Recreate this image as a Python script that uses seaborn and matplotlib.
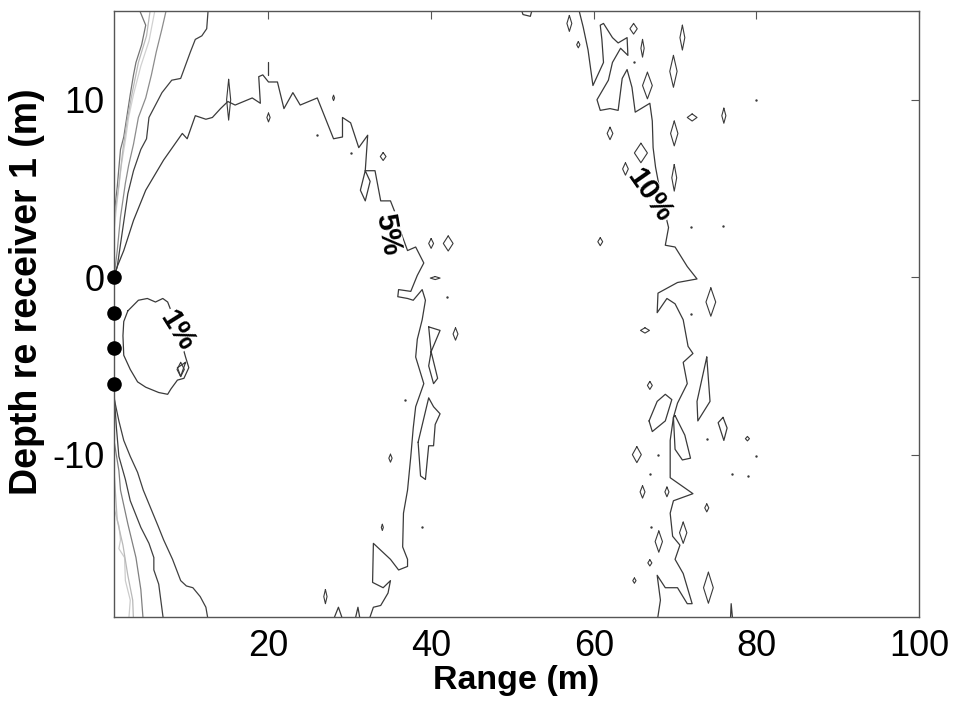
import numpy as np
import pandas as pd
import matplotlib
matplotlib.use("Agg")
import matplotlib.pyplot as plt
import seaborn as sns

# receivers on the left edge
rec_range = [1.0, 1.0, 1.0, 1.0]
rec_depth = [0, -2, -4, -6]

# 1% contour (closed loop)
c1_r = [2.7, 4.0, 5.1, 6.1, 7.0, 7.6, 8.7, 9.8, 10.2, 9.6, 8.8, 8.0, 7.6, 6.5, 4.9, 3.9, 3.0, 2.2, 2.1, 2.2, 2.7]
c1_d = [-1.9, -1.3, -1.2, -1.4, -1.2, -1.4, -2.7, -4.5, -5.1, -5.7, -5.8, -6.3, -6.6, -6.5, -6.2, -5.9, -5.2, -4.4, -3.3, -2.5, -1.9]

# 5% contour
c5_r = [1.0, 1.4, 2.2, 3.4, 4.9, 7.1, 9.4, 10.0, 11.0, 12.3, 13.1, 14.1, 15.0, 15.9, 18.0, 19.0,
        18.8, 19.3, 20.0, 21.1, 21.9, 23.0, 23.9, 26.0, 28.0, 29.1, 29.1, 30.1, 31.1, 32.2, 31.9,
        33.1, 33.8, 35.0, 35.6, 36.3, 37.1, 38.1, 39.1, 38.3, 37.5, 36.0, 35.9, 37.1, 37.8, 38.9,
        39.3, 38.9, 38.3, 38.1, 39.1, 38.1, 37.8, 37.5, 37.1, 36.6, 36.5, 37.1, 37.1, 36.0, 35.0,
        32.9, 32.8, 34.1, 35.0, 34.7, 33.8, 32.9, 32.3]
c5_d = [0.0, 0.6, 1.5, 3.2, 4.9, 6.6, 8.1, 7.8, 9.1, 8.9, 9.0, 9.5, 9.9, 9.7, 10.1, 9.8,
        11.3, 11.4, 11.0, 11.0, 9.5, 10.4, 9.7, 10.1, 7.8, 7.9, 9.0, 8.7, 7.3, 8.0, 6.0,
        6.0, 4.3, 4.3, 3.6, 2.5, 1.5, 1.7, 0.8, 0.1, -0.8, -0.7, -1.1, -1.2, -1.3, -0.7,
        -1.3, -2.4, -3.5, -4.5, -6.0, -7.3, -8.5, -10.1, -12.0, -13.3, -15.2, -15.9, -16.3, -16.5, -15.9,
        -15.0, -17.2, -17.5, -17.1, -17.8, -18.5, -18.6, -19.4]

# 10% contour
c10_r = [58.1, 58.7, 59.3, 59.6, 59.9, 60.6, 61.2, 61.0, 60.8, 61.2, 62.3, 63.0, 64.1, 64.2, 63.3,
         62.3, 61.8, 60.4, 60.8, 62.0, 63.0, 63.5, 64.1, 64.7, 65.1, 66.9, 67.2, 67.3, 67.6, 68.3,
         69.2, 68.8, 70.0, 71.5, 72.7, 70.3, 67.9, 67.8, 69.0, 70.0, 71.0, 71.6, 72.2, 71.0, 71.5,
         70.3, 69.8, 69.4, 69.4, 72.2, 69.8, 69.4, 69.7, 70.6, 70.0, 71.0, 72.1, 71.5, 70.3, 68.8,
         67.8, 68.2, 67.8]
c10_d = [15.2, 14.1, 12.8, 11.8, 10.8, 11.5, 12.1, 13.4, 14.2, 14.3, 13.5, 13.2, 13.5, 12.5, 12.9,
         12.1, 11.1, 10.0, 9.4, 9.5, 9.4, 11.2, 11.7, 10.7, 9.3, 9.8, 8.8, 7.3, 6.2, 4.5,
         2.8, 1.8, 1.7, 0.6, -0.1, -0.3, -0.9, -2.0, -1.2, -1.5, -2.4, -3.9, -4.3, -4.8, -6.0,
         -7.1, -7.9, -9.2, -11.3, -12.2, -12.6, -13.3, -14.6, -15.1, -15.9, -16.7, -18.4, -18.4, -17.5, -17.5,
         -16.8, -18.2, -19.4]

# higher-error contours hugging the receiver array (shade = grey level)
edge_paths = {
    "top_a": ([4.0, 4.9, 4.4, 3.7, 3.4, 3.0, 2.6, 2.2, 1.8, 1.4, 1.0],
              [15.2, 14.2, 13.1, 12.1, 11.4, 10.3, 9.1, 7.9, 7.2, 5.1, 3.4], 0.45),
    "top_b": ([6.1, 5.3, 4.3, 3.4, 2.8, 2.4, 1.9, 1.4, 1.0],
              [15.2, 13.3, 11.9, 10.3, 9.0, 7.7, 6.3, 4.3, 2.6], 0.82),
    "top_c": ([5.5, 5.0, 4.0, 3.2, 2.6, 2.1, 1.6, 1.0],
              [15.2, 13.6, 12.1, 10.3, 8.8, 7.2, 5.2, 3.2], 0.72),
    "top_d": ([7.5, 6.9, 6.2, 5.6, 4.9, 4.0, 3.4, 2.8, 2.4, 1.8, 1.4, 1.0],
              [15.2, 14.0, 12.7, 11.4, 10.1, 9.0, 7.5, 6.3, 5.3, 3.4, 1.5, 0.0], 0.55),
    "top_e": ([12.6, 12.4, 11.8, 11.0, 10.4, 9.2, 8.1, 6.9, 6.1, 5.3, 5.0, 4.3, 3.4, 2.7, 2.1, 1.4, 1.0],
              [15.2, 14.0, 13.6, 13.4, 12.7, 11.2, 11.1, 10.4, 9.7, 9.0, 7.8, 7.2, 6.0, 4.7, 2.8, 0.6, 0.0], 0.25),
    "bot_a": ([1.0, 1.6, 2.2, 3.0, 3.9, 4.6, 5.5, 6.4, 7.1, 8.2, 9.2, 9.9, 10.7, 11.6, 12.3, 12.6],
              [-6.8, -8.1, -9.2, -10.1, -11.0, -12.0, -13.0, -14.0, -14.8, -15.9, -17.1, -17.4, -17.5, -18.0, -18.6, -19.4], 0.25),
    "bot_b": ([1.0, 1.3, 1.6, 2.4, 3.0, 4.3, 5.3, 5.9, 5.9, 6.5, 7.1],
              [-6.5, -8.5, -10.1, -11.4, -12.6, -14.1, -15.0, -15.8, -16.5, -17.3, -19.4], 0.25),
    "bot_c": ([1.0, 1.6, 1.8, 2.7, 3.7, 4.3, 4.6],
              [-9.2, -10.9, -12.0, -13.9, -15.8, -17.6, -19.4], 0.5),
    "bot_d": ([1.0, 1.6, 1.8, 1.6, 2.3, 2.4, 3.0, 2.8],
              [-13.0, -14.0, -14.8, -15.3, -15.8, -17.1, -18.2, -19.4], 0.8),
    "bot_e": ([1.0, 1.4, 2.1, 2.7, 3.3, 3.4],
              [-10.9, -13.7, -15.1, -16.8, -18.2, -19.4], 0.72),
}

# extra small open / closed pieces of the 5% and 10% contours
piece_r = [
    [20.0, 20.0],
    [31.9, 31.3, 31.9, 32.5, 31.9],
    [39.7, 41.1, 40.0, 40.8, 40.3, 39.7, 40.0, 39.7],
    [38.4, 39.7, 40.3, 41.1, 40.5, 40.3, 39.7, 39.3, 38.7, 38.4],
    [27.9, 28.6, 29.2],
    [30.6, 31.0, 31.3],
    [51.0, 51.3, 52.2, 52.5],
    [66.8, 67.8, 68.8, 69.6, 68.8, 67.2, 66.8],
    [73.9, 74.3, 72.8, 72.7, 73.9],
    [75.9, 76.4, 76.0, 75.3, 75.9],
    [70.0, 71.2, 71.9, 70.9, 70.0, 69.8, 70.0],
    [76.8, 76.9, 77.1],
]
piece_d = [
    [12.1, 11.4],
    [6.0, 4.9, 4.3, 5.4, 6.0],
    [-2.8, -3.0, -4.2, -5.7, -6.0, -5.0, -4.2, -2.8],
    [-9.3, -6.8, -7.3, -7.7, -8.3, -9.5, -9.5, -11.4, -11.2, -9.3],
    [-19.4, -18.6, -19.4],
    [-19.4, -18.6, -19.4],
    [15.2, 14.8, 14.7, 15.2],
    [-8.1, -7.0, -6.6, -6.9, -8.1, -8.7, -8.1],
    [-4.5, -7.0, -8.1, -7.0, -4.5],
    [-7.9, -8.5, -9.2, -8.2, -7.9],
    [-7.8, -8.9, -10.2, -10.3, -9.7, -7.9, -7.8],
    [-19.4, -18.4, -19.4],
]

# small closed contours (islands): centre range, centre depth, width, height
isl_r = [15.1, 20.0, 28.0, 34.1, 40.0, 42.1, 40.5, 43.0, 35.0, 34.0, 27.0,
         9.2,
         57.0, 58.1, 64.9, 66.0, 70.9, 69.8, 66.6, 72.1, 76.0, 62.0, 69.9, 65.8, 63.9, 69.9,
         60.8, 74.4, 66.3, 66.9, 65.3, 66.0, 69.0, 73.9, 68.0, 71.0, 66.9, 65.0, 74.1, 78.9]
isl_d = [10.0, 9.0, 10.1, 6.8, 1.9, 1.9, -0.05, -3.2, -10.2, -14.1, -18.0,
         -5.2,
         14.3, 13.1, 14.0, 12.9, 13.5, 11.6, 10.8, 9.0, 9.1, 8.1, 8.1, 7.0, 6.1, 5.6,
         2.0, -1.4, -3.0, -6.1, -10.0, -12.1, -12.1, -13.0, -14.9, -14.4, -16.1, -17.1, -17.5, -9.1]
isl_w = [0.5, 0.4, 0.25, 0.7, 0.6, 1.2, 1.2, 0.6, 0.4, 0.25, 0.4,
         0.9,
         0.6, 0.4, 0.9, 0.4, 0.6, 0.9, 1.2, 1.2, 0.5, 0.7, 0.9, 1.6, 0.7, 0.6,
         0.6, 1.2, 1.1, 0.6, 1.1, 0.6, 0.5, 0.5, 0.9, 0.9, 0.5, 0.4, 1.2, 0.5]
isl_h = [2.3, 0.5, 0.3, 0.45, 0.55, 0.85, 0.17, 0.7, 0.45, 0.35, 0.8,
         0.8,
         0.9, 0.35, 0.6, 1.0, 1.4, 1.8, 1.5, 0.4, 0.85, 0.7, 1.4, 1.1, 0.7, 1.5,
         0.45, 1.6, 0.3, 0.45, 0.9, 0.7, 0.55, 0.45, 1.2, 1.2, 0.35, 0.3, 1.75, 0.25]

# specks
dot_r = [26.0, 30.1, 36.8, 38.9, 42.0, 80.0, 72.0, 75.9, 64.9, 67.9, 66.9, 73.9, 77.0, 79.0, 80.0, 67.1, 71.9]
dot_d = [8.0, 7.0, -6.9, -14.1, -1.1, 10.0, -2.1, 2.9, 12.1, -10.0, -11.1, -9.1, -11.1, -11.2, -10.1, -14.1, 2.8]

# contour labels: text, range, depth, angle
lab_txt = ["1%", "5%", "10%"]
lab_r = [8.7, 34.6, 66.9]
lab_d = [-3.0, 2.4, 4.6]
lab_rot = [-58, -80, -55]

line_col = "#3a3a3a"

sns.set_style("white")
plt.rcParams["font.family"] = ["Liberation Sans", "DejaVu Sans"]
plt.rcParams["axes.unicode_minus"] = False

fig = plt.figure(figsize=(9.61, 7.04), dpi=100)
ax = fig.add_axes([114 / 961, 1 - 617 / 704, 805 / 961, 606 / 704])


def draw(r, d, col, lw=0.9):
    df = pd.DataFrame({"range": r, "depth": d})
    sns.lineplot(data=df, x="range", y="depth", sort=False, estimator=None,
                 color=col, lw=lw, ax=ax)


for name, (r, d, g) in edge_paths.items():
    draw(r, d, str(g))

draw(c1_r, c1_d, line_col)
draw([9.8, 9.2, 8.8, 9.8], [-4.8, -5.6, -5.1, -4.8], line_col)
draw(c5_r, c5_d, line_col)
draw(c10_r, c10_d, line_col)
for r, d in zip(piece_r, piece_d):
    draw(r, d, line_col)

# islands as diamonds
for r, d, w, h in zip(isl_r, isl_d, isl_w, isl_h):
    draw([r, r + w / 2, r, r - w / 2, r], [d + h / 2, d, d - h / 2, d, d + h / 2], line_col, lw=0.8)

sns.scatterplot(x=dot_r, y=dot_d, s=3, color=line_col, linewidth=0, ax=ax)

for t, r, d, a in zip(lab_txt, lab_r, lab_d, lab_rot):
    ax.text(r, d, t, rotation=a, ha="center", va="center", rotation_mode="anchor",
            fontsize=21, fontweight="bold", color="black", zorder=4,
            bbox=dict(facecolor="white", edgecolor="none", pad=0.5))

sns.scatterplot(x=rec_range, y=rec_depth, s=110, color="black", linewidth=0,
                ax=ax, clip_on=False, zorder=6)

ax.set_xlim(1, 100)
ax.set_ylim(-19.15, 15)
ax.set_xticks([20, 40, 60, 80, 100])
ax.set_yticks([-10, 0, 10])
ax.tick_params(direction="in", length=6, width=0.8, color="#555555",
               labelcolor="black", top=True, right=True, labelsize=26, pad=7)
ax.tick_params(axis="x", pad=9)
for s in ax.spines.values():
    s.set_color("#555555")
    s.set_linewidth(1.0)

ax.set_xlabel("Range (m)", fontsize=24.5, fontweight="bold", color="black", labelpad=0)
ax.set_ylabel("Depth re receiver 1 (m)", fontsize=27, fontweight="bold", color="black")
ax.yaxis.set_label_coords(-0.086, 0.536)

fig.savefig("out.png", dpi=100, facecolor="white")
